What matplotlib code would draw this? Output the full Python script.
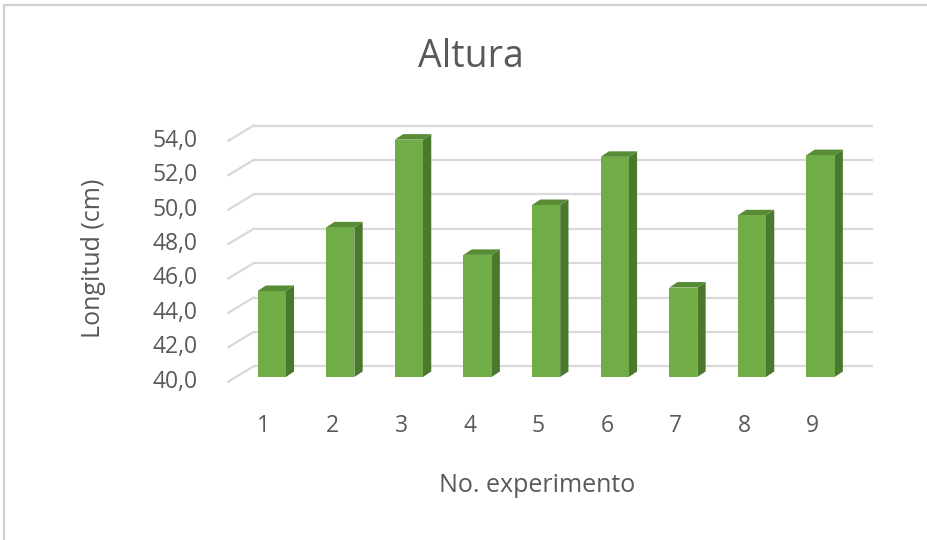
import matplotlib.pyplot as plt
from matplotlib.patches import Polygon, Rectangle

experimentos = [1, 2, 3, 4, 5, 6, 7, 8, 9]
altura = [45.0, 48.7, 53.8, 47.1, 50.0, 52.8, 45.2, 49.4, 52.9]
y_ticks = [40, 42, 44, 46, 48, 50, 52, 54]

W, H = 927, 540
# pixel layout of the bar plane: category 1 centre and value 40 baseline
PX_C1, PX_STEP = 271.7, 68.6
PX_V40, PX_UNIT = 377.0, 17.2

# oblique 3d offsets (in data units)
BAR_W = 0.41
BAR_DX, BAR_DV = 0.121, 0.32
BACK_DX, BACK_DV = 0.255, 0.62
FRONT_DX, FRONT_DV = -0.114, -0.27

GREEN = '#70AD47'
GREEN_SIDE = '#4A782C'
GREEN_TOP = '#578C35'
GRID = '#D9D9D9'
TXT = '#595959'
FONT = 'Open Sans'

fig = plt.figure(figsize=(W / 100, H / 100), dpi=100)
ax = fig.add_axes([0, 0, 1, 1])
ax.set_xlim(1 - PX_C1 / PX_STEP, 1 + (W - PX_C1) / PX_STEP)
ax.set_ylim(40 - (H - PX_V40) / PX_UNIT, 40 + PX_V40 / PX_UNIT)
ax.axis('off')

# chart area border (top and left edges show)
fig.add_artist(Rectangle((4 / W, -0.1), 1.2, (H - 5) / H + 0.1,
                         transform=fig.transFigure, fill=False,
                         edgecolor='#D0D0D0', lw=1.6))

# back wall gridlines and side-wall diagonals
x_left_front = 0.5 + FRONT_DX - 0.019
x_left_back = x_left_front + (BACK_DX - FRONT_DX)
x_right_back = 9.765
for v in y_ticks:
    ax.plot([x_left_back, x_right_back], [v + BACK_DV, v + BACK_DV],
            color=GRID, lw=1.6, zorder=1, solid_capstyle='butt')
    ax.plot([x_left_front, x_left_back], [v + FRONT_DV, v + BACK_DV],
            color=GRID, lw=1.6, zorder=1)
    ax.text(-0.08, v + FRONT_DV, f'{v:.1f}'.replace('.', ','),
            ha='right', va='center', fontsize=16.5, color=TXT, family=FONT)

# columns: side, top, front
for c, v in zip(experimentos, altura):
    x0, x1 = c - BAR_W / 2, c + BAR_W / 2
    side = [(x1, 40), (x1 + BAR_DX, 40 + BAR_DV),
            (x1 + BAR_DX, v + BAR_DV), (x1, v)]
    top = [(x0, v), (x1, v), (x1 + BAR_DX, v + BAR_DV),
           (x0 + BAR_DX, v + BAR_DV)]
    ax.add_patch(Polygon(side, closed=True, facecolor=GREEN_SIDE,
                         edgecolor='none', zorder=3))
    ax.add_patch(Polygon(top, closed=True, facecolor=GREEN_TOP,
                         edgecolor='none', zorder=3))
    ax.add_patch(Rectangle((x0, 40), BAR_W, v - 40, facecolor=GREEN,
                           edgecolor='none', zorder=4))
    ax.text(c + FRONT_DX, 37.15, str(c), ha='center', va='center',
            fontsize=16.5, color=TXT, family=FONT)

fig.text(471 / W, 1 - 57 / H, 'Altura', ha='center', va='center',
         fontsize=27, color=TXT, family=FONT)
fig.text(537 / W, 1 - 485 / H, 'No. experimento', ha='center', va='center',
         fontsize=18, color=TXT, family=FONT)
fig.text(94 / W, 1 - 258 / H, 'Longitud (cm)', ha='center', va='center',
         rotation=90, fontsize=18, color=TXT, family=FONT)

fig.savefig('out.png', dpi=100, facecolor='white')
